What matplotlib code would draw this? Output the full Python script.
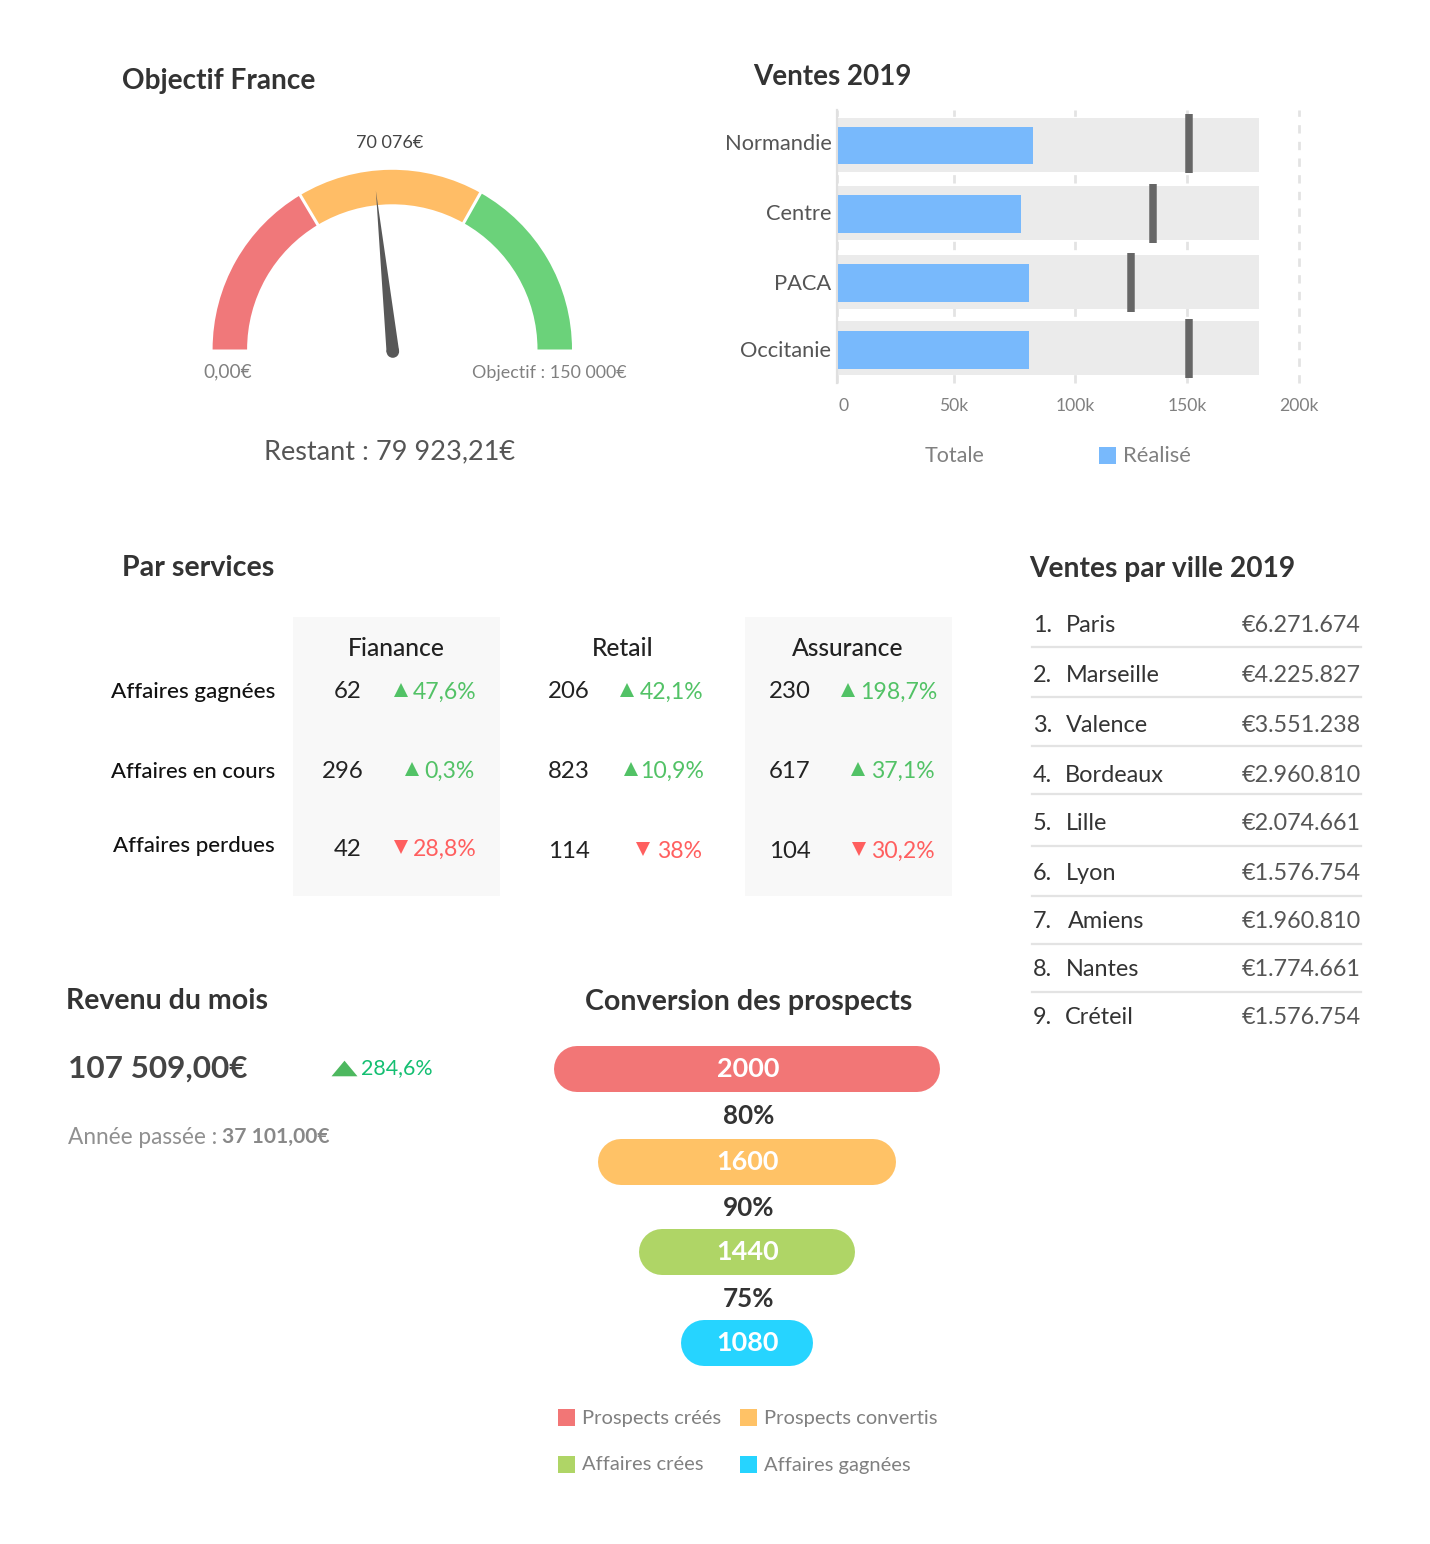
import numpy as np
import matplotlib
matplotlib.use("Agg")
import matplotlib.pyplot as plt
from matplotlib.patches import Wedge, Polygon, Circle, Rectangle
from matplotlib.ticker import NullLocator
from matplotlib.transforms import ScaledTranslation

plt.rcParams["font.family"] = ["Lato", "DejaVu Sans"]

W, H = 1430, 1544

# --- data ---
gauge_stops = [0, 49300, 99500, 150000]
gauge_colors = ["#F0787A", "#FFBD66", "#6BD27A"]
gauge_value = 70076

regions = ["Normandie", "Centre", "PACA", "Occitanie"]
realise = [82.6, 77.7, 81, 81]
cible = [151, 135, 124.8, 151]
totale = [182, 182, 182, 182]
ventes_ticks = [0, 50, 100, 150, 200]
ventes_tick_labels = ["0", "50k", "100k", "150k", "200k"]

services = ["Fianance", "Retail", "Assurance"]
lignes = ["Affaires gagnées", "Affaires en cours", "Affaires perdues"]
nombres = [[62, 296, 42], [206, 823, 114], [230, 617, 104]]
evolutions = [["47,6%", "0,3%", "28,8%"], ["42,1%", "10,9%", "38%"], ["198,7%", "37,1%", "30,2%"]]

villes = ["Paris", "Marseille", "Valence", "Bordeaux", "Lille", "Lyon", "Amiens", "Nantes", "Créteil"]
montants = ["€6.271.674", "€4.225.827", "€3.551.238", "€2.960.810", "€2.074.661",
            "€1.576.754", "€1.960.810", "€1.774.661", "€1.576.754"]

funnel_values = [2000, 1600, 1440, 1080]
funnel_rates = ["80%", "90%", "75%"]
funnel_labels = ["Prospects créés", "Prospects convertis", "Affaires crées", "Affaires gagnées"]
funnel_colors = ["#F27676", "#FFC266", "#AFD566", "#26D4FF"]

fig = plt.figure(figsize=(W / 100, H / 100), dpi=100, facecolor="white")


def px_axes(x0, y0, x1, y1, **kw):
    return fig.add_axes([x0 / W, 1 - y1 / H, (x1 - x0) / W, (y1 - y0) / H], **kw)


def fs(px):
    return px * 0.72


# overlay in pixel coordinates, for the dashboard texts
ov = px_axes(0, 0, W, H)
ov.set_xlim(0, W)
ov.set_ylim(H, 0)
ov.axis("off")
ov.set_zorder(5)
ov.patch.set_alpha(0)


def txt(x, y, s, size, color="#333333", ha="left", weight="normal"):
    # va=center tombe environ 2 px trop haut avec Lato
    return ov.text(x, y + 2, s, fontsize=fs(size), color=color, ha=ha, va="center", fontweight=weight)


DARK = "#333333"
GREY = "#808080"
GREEN = "#52C266"
RED = "#FF5F5F"

# --- titres ---
for x, y, s, size in [(122, 79, "Objectif France", 28), (753.5, 75, "Ventes 2019", 27.8),
                      (122, 566, "Par services", 28.6), (1029.5, 567, "Ventes par ville 2019", 28.1),
                      (66, 999, "Revenu du mois", 28.5), (585, 1000, "Conversion des prospects", 28.6)]:
    txt(x, y, s, size, DARK, weight="bold")

# --- jauge ---
cx, cy = 392.3, 349.5
g = px_axes(cx - 200, cy - 200, cx + 200, cy + 20)
g.set_xlim(-200, 200)
g.set_ylim(-20, 200)
g.axis("off")
g.set_zorder(1)
for i, col in enumerate(gauge_colors):
    a0 = 180 - 180 * gauge_stops[i + 1] / gauge_stops[-1]
    a1 = 180 - 180 * gauge_stops[i] / gauge_stops[-1]
    g.add_patch(Wedge((0, 0), 179.7, a0, a1, width=34.5, facecolor=col, edgecolor="none"))
    # filet blanc entre les secteurs
    if i > 0:
        t = np.radians(a1)
        g.plot([141 * np.cos(t), 184 * np.cos(t)], [141 * np.sin(t), 184 * np.sin(t)], color="white", lw=2.2)
ang = np.radians(180 - 180 * gauge_value / gauge_stops[-1])
tip = np.array([159.5 * np.cos(ang), 159.5 * np.sin(ang)])
perp = np.array([np.sin(ang), -np.cos(ang)]) * 6.3
base = np.array([0.5, -2.0])
g.add_patch(Polygon([tip, base + perp, base - perp], facecolor="#585858", edgecolor="none"))
g.add_patch(Circle(base, 6.3, facecolor="#585858", edgecolor="none"))

txt(389.5, 141, "70 076€", 18, "#444444", ha="center")
txt(203.5, 370, "0,00€", 19, GREY)
txt(627, 371, "Objectif : 150 000€", 17.9, GREY, ha="right")
txt(264, 450, "Restant : 79 923,21€", 27.1, "#555555")

# --- ventes 2019 (bullet chart) ---
tick_px = [837, 954, 1075, 1187, 1299]


def to_px(v):
    return np.interp(v, ventes_ticks, tick_px, left=np.nan, right=np.nan)


def from_px(p):
    return np.interp(p, tick_px, ventes_ticks, left=np.nan, right=np.nan)


band_y = [145, 213, 282, 348]
blue_y = [145.5, 214, 283, 350]
target_y = [143.5, 213, 282.5, 348.5]

b = px_axes(837, 110, 1299, 383)
b.set_xscale("function", functions=(to_px, from_px))
b.set_xlim(0, 200)
b.set_ylim(383, 110)
b.patch.set_alpha(0)
for side in ["top", "right", "bottom"]:
    b.spines[side].set_visible(False)
b.spines["left"].set_color("#E0E0E0")
b.spines["left"].set_linewidth(1.6)
b.xaxis.grid(True, color="#E3E3E3", lw=2, ls=(0, (3, 3)), clip_on=False)
b.set_axisbelow(True)
b.barh(band_y, totale, height=54, color="#EBEBEB", zorder=2)
b.barh(blue_y, np.array(realise) - 0.4, height=37.5, color="#78B9FC", zorder=3, left=0.4)
b.vlines(cible, np.array(target_y) - 29.5, np.array(target_y) + 29.5, color="#666666", lw=5.4, zorder=4)
b.set_xticks(ventes_ticks)
b.set_xticklabels(ventes_tick_labels, fontsize=fs(17.5), color=GREY)
b.set_yticks([142, 212, 282, 349])
b.set_yticklabels(regions, fontsize=fs(21.9), color="#555555")
b.tick_params(axis="both", length=0)
b.tick_params(axis="x", pad=11)
b.tick_params(axis="y", pad=4)
first = b.get_xticklabels()[0]
first.set_transform(first.get_transform() + ScaledTranslation(7 / 100, 0, fig.dpi_scale_trans))
b.xaxis.set_minor_locator(NullLocator())

txt(954.5, 454, "Totale", 21.5, GREY, ha="center")
ov.add_patch(Rectangle((1099, 447), 17, 16.5, facecolor="#78B9FC", edgecolor="none"))
txt(1123, 454.5, "Réalisé", 22, GREY)

# --- par services ---
for x0 in [293, 745]:
    ov.add_patch(Rectangle((x0, 617), 206.5, 278.5, facecolor="#F8F8F8", edgecolor="none", zorder=0))

header_x = [396, 622.5, 848]
num_x = [[348, 343, 348], [568.5, 568.5, 568.5], [789.5, 789.5, 789.5]]
num_y = [[690, 769, 847], [690, 769, 849], [690, 769, 849]]
tri_x = [[401, 412, 401], [627, 631, 643], [848, 858, 859]]
pct_right = [[476.5, 474.5, 476.5], [703.5, 703.5, 702], [937, 934.5, 934.5]]
label_y = [690, 770, 844]
label_size = [22.5, 22, 22.3]

for i, s in enumerate(lignes):
    txt(275, label_y[i], s, label_size[i], "#111111", ha="right", weight="medium")
for c, s in enumerate(services):
    txt(header_x[c], 646, s, 24.6, "#222222", ha="center", weight="medium")
    for r in range(3):
        col = RED if r == 2 else GREEN
        txt(num_x[c][r], num_y[c][r], str(nombres[c][r]), 24, "#222222", ha="center")
        ov.plot(tri_x[c][r], num_y[c][r], marker="v" if r == 2 else "^", color=col, ms=10.5, mew=0, ls="none")
        txt(pct_right[c][r], num_y[c][r], evolutions[c][r], 23, col, ha="right")

# --- ventes par ville ---
ligne_y = [623, 673, 723, 773, 822, 872, 920, 968, 1016]
nom_x = [1066, 1066, 1066, 1065, 1066, 1066, 1068, 1066, 1065]
sep_y = [647, 697, 746, 794, 846, 896, 944, 992]
for i, v in enumerate(villes):
    txt(1033, ligne_y[i], f"{i + 1}.", 23.5, "#333333")
    txt(nom_x[i], ligne_y[i], v, 23.5, "#333333")
    txt(1361, ligne_y[i], montants[i], 23.4, "#555555", ha="right")
for y in sep_y:
    ov.plot([1032, 1361], [y, y], color="#E3E3E3", lw=1.6)

# --- revenu du mois ---
txt(68, 1067, "107 509,00€", 31.5, "#444444", weight="bold")
ov.plot(344, 1068, marker=[(-1, -0.6), (1, -0.6), (0, 0.6)], color="#4DB85F", ms=18.7, mew=0, ls="none")
txt(361, 1066, "284,6%", 21.4, "#14BF72")
txt(68, 1135, "Année passée :", 22.6, "#909090")
txt(222.5, 1135, "37 101,00€", 21, "#888888", weight="bold")

# --- conversion des prospects ---
bar_w = [386, 298, 216, 132]
bar_x = [554, 598, 639, 681]
bar_y = [1046, 1139, 1229, 1320]
bar_h = 46
val_y = [1067, 1159.5, 1250, 1341]
for i, v in enumerate(funnel_values):
    ov.plot([bar_x[i] + bar_h / 2, bar_x[i] + bar_w[i] - bar_h / 2], [bar_y[i] + bar_h / 2] * 2,
            color=funnel_colors[i], lw=fs(bar_h), solid_capstyle="round")
    txt(748, val_y[i], str(v), 27, "white", ha="center", weight="bold")
for y, s in zip([1114, 1206, 1297], funnel_rates):
    txt(748.5, y, s, 26, DARK, ha="center", weight="bold")

leg_x = [558, 740, 558, 740]
leg_y = [1417.5, 1417.5, 1464, 1464]
for i, s in enumerate(funnel_labels):
    ov.add_patch(Rectangle((leg_x[i], leg_y[i] - 8.5), 17, 17, facecolor=funnel_colors[i], edgecolor="none"))
    txt(leg_x[i] + 24.5, leg_y[i] - 1, s, 20.2, GREY)

fig.savefig("out.png", dpi=100, facecolor="white")
